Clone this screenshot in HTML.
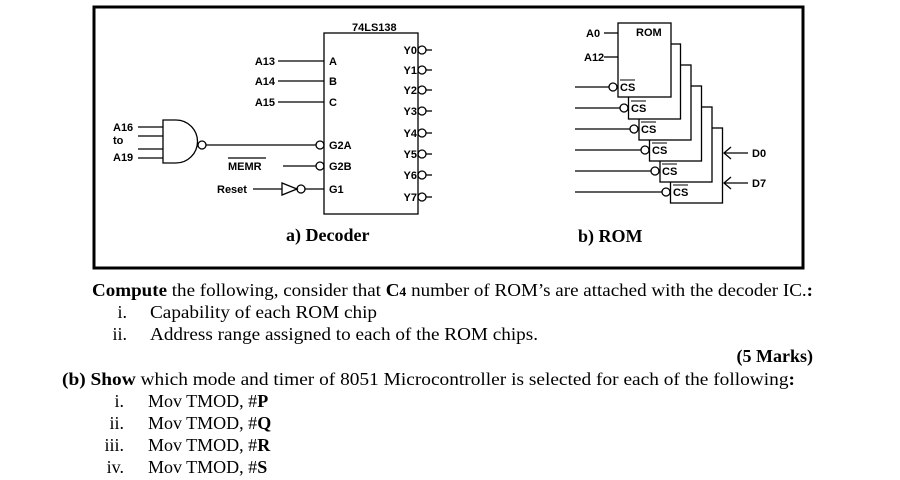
<!DOCTYPE html>
<html><head><meta charset="utf-8"><style>
body{margin:0;background:#fff}
svg{display:block}
.s{font-family:"Liberation Sans",Arial,sans-serif;font-weight:bold;font-size:11px}
.t{font-family:"Liberation Serif","Times New Roman",serif;font-size:18px}
</style></head><body>
<svg width="900" height="480" viewBox="0 0 900 480" xmlns="http://www.w3.org/2000/svg">
<rect x="94" y="7" width="709" height="261" fill="none" stroke="#000" stroke-width="3"/>
<g stroke="#000" stroke-width="1.3" fill="none">
<rect x="324" y="33" width="94" height="181"/>
<line x1="278" y1="61" x2="324" y2="61"/><line x1="278" y1="81" x2="324" y2="81"/><line x1="278" y1="102" x2="324" y2="102"/>
<path d="M163 120 H176 A21.5 21.5 0 0 1 176 163 H163 Z"/>
<line x1="138" y1="127" x2="163" y2="127"/><line x1="138" y1="136" x2="163" y2="136"/><line x1="138" y1="149" x2="163" y2="149"/><line x1="138" y1="158" x2="163" y2="158"/>
<circle cx="202" cy="145" r="4"/><line x1="206" y1="145" x2="316" y2="145"/><circle cx="320" cy="145" r="4"/>
<line x1="283" y1="166" x2="316" y2="166"/><circle cx="320" cy="166" r="4"/>
<line x1="253" y1="189" x2="282" y2="189"/><path d="M282 183 L297 189 L282 195 Z"/><circle cx="301" cy="189" r="4"/><line x1="305" y1="189" x2="324" y2="189"/>
<g>
<circle cx="422" cy="50" r="4"/><line x1="426" y1="50" x2="432" y2="50"/>
<circle cx="422" cy="70" r="4"/><line x1="426" y1="70" x2="432" y2="70"/>
<circle cx="422" cy="90" r="4"/><line x1="426" y1="90" x2="432" y2="90"/>
<circle cx="422" cy="111" r="4"/><line x1="426" y1="111" x2="432" y2="111"/>
<circle cx="422" cy="133" r="4"/><line x1="426" y1="133" x2="432" y2="133"/>
<circle cx="422" cy="154" r="4"/><line x1="426" y1="154" x2="432" y2="154"/>
<circle cx="422" cy="175" r="4"/><line x1="426" y1="175" x2="432" y2="175"/>
<circle cx="422" cy="197" r="4"/><line x1="426" y1="197" x2="432" y2="197"/>
</g>
</g>
<g class="s">
<text x="352" y="31">74LS138</text>
<text x="275" y="65" text-anchor="end">A13</text><text x="275" y="85" text-anchor="end">A14</text><text x="275" y="106" text-anchor="end">A15</text>
<text x="329" y="65">A</text><text x="329" y="85">B</text><text x="329" y="106">C</text>
<text x="113" y="131">A16</text><text x="113" y="144">to</text><text x="113" y="161">A19</text>
<text x="329" y="149">G2A</text><text x="329" y="170">G2B</text><text x="329" y="193">G1</text>
<text x="228" y="170">MEMR</text><line x1="228" y1="158" x2="266" y2="158" stroke="#000" stroke-width="1.2"/>
<text x="217" y="193">Reset</text>
<text x="417" y="54" text-anchor="end">Y0</text><text x="417" y="74" text-anchor="end">Y1</text><text x="417" y="94" text-anchor="end">Y2</text><text x="417" y="115" text-anchor="end">Y3</text><text x="417" y="137" text-anchor="end">Y4</text><text x="417" y="158" text-anchor="end">Y5</text><text x="417" y="179" text-anchor="end">Y6</text><text x="417" y="201" text-anchor="end">Y7</text>
</g>
<text class="t" x="286" y="241" font-weight="bold" font-size="19">a) Decoder</text>
<g stroke="#000" stroke-width="1.3" fill="#fff">
<rect x="670.5" y="128" width="52" height="75"/>
<rect x="660" y="107" width="52" height="75"/>
<rect x="649.5" y="86" width="52" height="75"/>
<rect x="639" y="65" width="52" height="75"/>
<rect x="628.5" y="44" width="52" height="75"/>
<rect x="618" y="23" width="53" height="74"/>
</g>
<g stroke="#000" stroke-width="1.3" fill="none">
<line x1="604" y1="33" x2="618" y2="33"/><line x1="604" y1="57" x2="618" y2="57"/>
<line x1="575" y1="87" x2="609" y2="87"/><circle cx="613" cy="87" r="4"/>
<line x1="575" y1="108" x2="620" y2="108"/><circle cx="624" cy="108" r="4"/>
<line x1="575" y1="129" x2="630" y2="129"/><circle cx="634" cy="129" r="4"/>
<line x1="575" y1="150" x2="641" y2="150"/><circle cx="645" cy="150" r="4"/>
<line x1="575" y1="171" x2="651" y2="171"/><circle cx="655" cy="171" r="4"/>
<line x1="575" y1="192" x2="662" y2="192"/><circle cx="666" cy="192" r="4"/>
<line x1="724" y1="153" x2="748" y2="153"/><path d="M731 147 L724 153 L731 159"/>
<line x1="724" y1="183" x2="748" y2="183"/><path d="M731 177 L724 183 L731 189"/>
</g>
<g class="s">
<text x="586" y="37">A0</text><text x="584" y="61">A12</text>
<text x="636" y="36">ROM</text>
<text x="752" y="157">D0</text><text x="752" y="187">D7</text>
<text x="620" y="91">CS</text><text x="631" y="112">CS</text><text x="641" y="133">CS</text><text x="652" y="154">CS</text><text x="662" y="175">CS</text><text x="673" y="196">CS</text>
<g stroke="#000" stroke-width="1">
<line x1="620" y1="80" x2="635" y2="80"/><line x1="631" y1="101" x2="646" y2="101"/><line x1="641" y1="122" x2="656" y2="122"/><line x1="652" y1="143" x2="667" y2="143"/><line x1="662" y1="164" x2="677" y2="164"/><line x1="673" y1="185" x2="688" y2="185"/>
</g>
</g>
<text class="t" x="578" y="242" font-weight="bold" font-size="19">b) ROM</text>
<g class="t">
<text x="92" y="296" textLength="721" lengthAdjust="spacingAndGlyphs"><tspan font-weight="bold">Compute</tspan> the following, consider that <tspan font-weight="bold">C<tspan font-size="13">4</tspan></tspan> number of ROM’s are attached with the decoder IC.<tspan font-weight="bold">:</tspan></text>
<text x="127" y="318" text-anchor="end">i.</text><text x="150" y="318" textLength="227" lengthAdjust="spacingAndGlyphs">Capability of each ROM chip</text>
<text x="127" y="340" text-anchor="end">ii.</text><text x="150" y="340" textLength="388" lengthAdjust="spacingAndGlyphs">Address range assigned to each of the ROM chips.</text>
<text x="813" y="362" text-anchor="end" font-weight="bold">(5 Marks)</text>
<text x="62" y="385" textLength="733" lengthAdjust="spacingAndGlyphs"><tspan font-weight="bold">(b) Show</tspan> which mode and timer of 8051 Microcontroller is selected for each of the following<tspan font-weight="bold">:</tspan></text>
<text x="124" y="407" text-anchor="end">i.</text><text x="148" y="407">Mov TMOD, #<tspan font-weight="bold">P</tspan></text>
<text x="124" y="429" text-anchor="end">ii.</text><text x="148" y="429">Mov TMOD, #<tspan font-weight="bold">Q</tspan></text>
<text x="124" y="451" text-anchor="end">iii.</text><text x="148" y="451">Mov TMOD, #<tspan font-weight="bold">R</tspan></text>
<text x="124" y="473" text-anchor="end">iv.</text><text x="148" y="473">Mov TMOD, #<tspan font-weight="bold">S</tspan></text>
</g>
</svg>
</body></html>
